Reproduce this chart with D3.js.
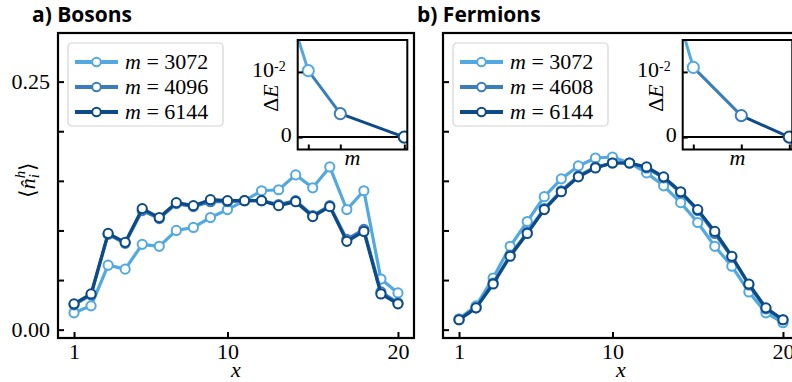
<!DOCTYPE html>
<html>
<head>
<meta charset="utf-8">
<script src="https://cdn.jsdelivr.net/npm/d3@7"></script>
<style>
	body { margin: 0; background: white; }
</style>
</head>
<body>
<div id="chart"></div>
<script>
// site index along the chain
const sites = [1, 2, 3, 4, 5, 6, 7, 8, 9, 10, 11, 12, 13, 14, 15, 16, 17, 18, 19, 20];

// bosons, hole density per bond dimension m
const bosonLabels = ["3072", "4096", "6144"];
const boson3072 = [0.017, 0.024, 0.065, 0.061, 0.086, 0.084, 0.100, 0.103, 0.113, 0.121, 0.130, 0.140, 0.141, 0.156, 0.143, 0.164, 0.121, 0.140, 0.051, 0.037];
const boson4096 = [0.025, 0.035, 0.096, 0.087, 0.120, 0.112, 0.127, 0.124, 0.129, 0.129, 0.130, 0.130, 0.126, 0.130, 0.115, 0.125, 0.091, 0.101, 0.038, 0.027];
const boson6144 = [0.026, 0.036, 0.097, 0.088, 0.122, 0.113, 0.128, 0.125, 0.131, 0.130, 0.130, 0.130, 0.125, 0.129, 0.114, 0.124, 0.089, 0.099, 0.036, 0.026];

// fermions
const fermionLabels = ["3072", "4608", "6144"];
const fermion3072 = [0.011, 0.024, 0.052, 0.084, 0.109, 0.134, 0.152, 0.165, 0.173, 0.174, 0.168, 0.158, 0.145, 0.128, 0.108, 0.084, 0.064, 0.038, 0.017, 0.007];
const fermion4608 = [0.010, 0.022, 0.047, 0.075, 0.098, 0.122, 0.140, 0.155, 0.164, 0.168, 0.168, 0.163, 0.153, 0.138, 0.120, 0.097, 0.073, 0.045, 0.021, 0.010];
const fermion6144 = [0.010, 0.022, 0.046, 0.074, 0.097, 0.121, 0.139, 0.154, 0.163, 0.168, 0.168, 0.164, 0.154, 0.139, 0.121, 0.099, 0.074, 0.046, 0.022, 0.010];

// inset: energy error vs m (first point lies above the visible range)
const bosonInsetM = [2048, 3072, 4096, 6144];
const bosonInsetDE = [0.0256, 0.0102, 0.0036, 0.0];
const fermionInsetM = [1536, 3072, 4608, 6144];
const fermionInsetDE = [0.0357, 0.0107, 0.0033, 0.0];

const yTicks = [0, 0.05, 0.10, 0.15, 0.20, 0.25];
const xTicks = [1, 10, 20];

const colors = ['#52a9e0', '#3a7dbd', '#0d4a88'],
	serif = "'Liberation Serif', 'Times New Roman', serif",
	W = 792,
	H = 382,
	plotTop = 33,
	plotBottom = 338;

let svg = d3.select("#chart").append("svg").attr("width", W).attr("height", H);

function styleAxis(a){
	a.select(".domain").remove();
	a.selectAll(".tick line").attr("stroke", "black").attr("stroke-width", 2);
	a.selectAll(".tick text").attr("fill", "black").style("font-size", "22px")
		.style("font-family", serif);
}

function drawPanel(cfg){
	let x = d3.scaleLinear().domain([0.06, 20.94]).range([cfg.left, cfg.left + 356]),
		y = d3.scaleLinear().domain([-0.0084, 0.299]).range([plotBottom, plotTop]),
		g = svg.append("g");

	g.append("clipPath").attr("id", "clip" + cfg.id)
		.append("rect")
		.attr("x", x.range()[0]).attr("y", plotTop)
		.attr("width", 356).attr("height", plotBottom - plotTop);

	// title
	svg.append("text")
		.attr("x", cfg.left - 26)
		.attr("y", 22)
		.style("font-family", "'Open Sans', Lato, sans-serif")
		.style("font-weight", "bold")
		.style("font-size", "21px")
		.text(cfg.title);

	// data lines
	let dataG = g.append("g").attr("clip-path", "url(#clip" + cfg.id + ")");
	let line = d3.line().x((d, i) => x(sites[i])).y(d => y(d));
	cfg.series.forEach(function(ser, si){
		dataG.append("path")
			.attr("d", line(ser))
			.attr("fill", "none")
			.attr("stroke", colors[si])
			.attr("stroke-width", 3.2)
			.attr("stroke-linejoin", "round");
		dataG.selectAll(null).data(ser).enter().append("circle")
			.attr("cx", (d, i) => x(sites[i]))
			.attr("cy", d => y(d))
			.attr("r", 4.6)
			.attr("fill", "white")
			.attr("stroke", colors[si])
			.attr("stroke-width", 2);
	});

	// axes with inward ticks
	let xAxis = g.append("g").attr("transform", "translate(0," + plotBottom + ")")
		.call(d3.axisBottom(x).tickValues(xTicks).tickSizeInner(-6).tickSizeOuter(0).tickPadding(5));
	let yAxis = g.append("g").attr("transform", "translate(" + cfg.left + ",0)")
		.call(d3.axisLeft(y).tickValues(yTicks).tickSizeInner(-6).tickSizeOuter(0).tickPadding(8)
			.tickFormat(d => (cfg.yLabels && (d === 0 || d === 0.25)) ? d3.format(".2f")(d) : ""));
	styleAxis(xAxis);
	styleAxis(yAxis);

	// frame
	g.append("rect")
		.attr("x", cfg.left).attr("y", plotTop)
		.attr("width", 356).attr("height", plotBottom - plotTop)
		.attr("fill", "none").attr("stroke", "black").attr("stroke-width", 2.2);

	// x label
	g.append("text")
		.attr("x", cfg.left + 178)
		.attr("y", 377)
		.attr("text-anchor", "middle")
		.style("font-family", serif)
		.style("font-size", "22px")
		.style("font-style", "italic")
		.text("x");

	// y label
	if(cfg.yLabels){
		let yl = g.append("text")
			.attr("transform", "translate(35,180) rotate(-90)")
			.attr("text-anchor", "middle")
			.style("font-family", serif)
			.style("font-size", "22px");
		yl.append("tspan").text("\u27E8");
		yl.append("tspan").style("font-style", "italic").text("n\u0302");
		yl.append("tspan").style("font-style", "italic").style("font-size", "15px").attr("dy", 4).text("i");
		yl.append("tspan").style("font-style", "italic").style("font-size", "15px").attr("dx", -4).attr("dy", -14).text("h");
		yl.append("tspan").attr("dy", 10).text("\u27E9");
	}

	// legend
	let lg = g.append("g").attr("transform", "translate(" + (cfg.left + 10) + ",43)");
	lg.append("rect")
		.attr("width", 155).attr("height", 83).attr("rx", 4)
		.attr("fill", "white").attr("fill-opacity", 0.8)
		.attr("stroke", "#d4d4d4").attr("stroke-width", 1.2);
	cfg.labels.forEach(function(lab, li){
		let row = lg.append("g").attr("transform", "translate(0," + (19 + li * 25) + ")");
		row.append("line").attr("x1", 7).attr("x2", 50)
			.attr("stroke", colors[li]).attr("stroke-width", 4);
		row.append("circle").attr("cx", 28.5).attr("r", 4.3)
			.attr("fill", "white").attr("stroke", colors[li]).attr("stroke-width", 2);
		let t = row.append("text").attr("x", 57).attr("y", 7.2)
			.style("font-family", serif).style("font-size", "22px");
		t.append("tspan").style("font-style", "italic").text("m");
		t.append("tspan").text(" = " + lab);
	});

	drawInset(cfg);
}

function drawInset(cfg){
	let x0 = cfg.left + 239.7,
		iw = 109.6,
		y0 = 40,
		y1 = 149.5,
		ix = d3.scaleLinear().domain([2733, 6240]).range([x0, x0 + iw]),
		iy = d3.scaleLinear().domain([-0.0019, 0.0149]).range([y1, y0]),
		g = svg.append("g");

	g.append("rect").attr("x", x0).attr("y", y0).attr("width", iw).attr("height", y1 - y0).attr("fill", "white");
	g.append("clipPath").attr("id", "iclip" + cfg.id)
		.append("rect").attr("x", x0).attr("y", y0).attr("width", iw).attr("height", y1 - y0);

	let dg = g.append("g").attr("clip-path", "url(#iclip" + cfg.id + ")");
	// zero line
	dg.append("line")
		.attr("x1", x0).attr("x2", x0 + iw)
		.attr("y1", iy(0)).attr("y2", iy(0))
		.attr("stroke", "black").attr("stroke-width", 2);
	let segColors = [colors[0], colors[0], colors[1], colors[2]];
	cfg.insetM.forEach(function(m, i){
		if(i === 0) return;
		dg.append("line")
			.attr("x1", ix(cfg.insetM[i - 1])).attr("y1", iy(cfg.insetDE[i - 1]))
			.attr("x2", ix(m)).attr("y2", iy(cfg.insetDE[i]))
			.attr("stroke", segColors[i]).attr("stroke-width", 3);
	});
	cfg.insetM.forEach(function(m, i){
		dg.append("circle")
			.attr("cx", ix(m)).attr("cy", iy(cfg.insetDE[i]))
			.attr("r", 5.6)
			.attr("fill", "white").attr("stroke", segColors[i]).attr("stroke-width", 2);
	});

	let xa = g.append("g").attr("transform", "translate(0," + y1 + ")")
		.call(d3.axisBottom(ix).tickValues(cfg.insetM.slice(1)).tickSizeInner(-5).tickSizeOuter(0).tickFormat(""));
	let ya = g.append("g").attr("transform", "translate(" + x0 + ",0)")
		.call(d3.axisLeft(iy).tickValues([0, 0.01]).tickSizeInner(-5).tickSizeOuter(0).tickPadding(6)
			.tickFormat(d => d === 0 ? "0" : "10"));
	styleAxis(xa);
	styleAxis(ya);
	ya.selectAll(".tick text").attr("dy", "0.2em");
	ya.selectAll(".tick text").filter(d => d === 0.01)
		.attr("x", -12)
		.append("tspan").attr("dy", "-0.45em").style("font-size", "14px").text("-2");

	g.append("rect").attr("x", x0).attr("y", y0).attr("width", iw).attr("height", y1 - y0)
		.attr("fill", "none").attr("stroke", "black").attr("stroke-width", 2);

	g.append("text")
		.attr("x", x0 + iw / 2).attr("y", 165)
		.attr("text-anchor", "middle")
		.style("font-family", serif)
		.style("font-size", "22px").style("font-style", "italic")
		.text("m");

	let dl = g.append("text")
		.attr("transform", "translate(" + (x0 - 20) + ",98) rotate(-90)")
		.attr("text-anchor", "middle")
		.style("font-family", serif)
		.style("font-size", "22px");
	dl.append("tspan").text("\u0394");
	dl.append("tspan").style("font-style", "italic").text("E");
}

drawPanel({id: "a", left: 58, title: "a) Bosons", yLabels: true,
	labels: bosonLabels, series: [boson3072, boson4096, boson6144],
	insetM: bosonInsetM, insetDE: bosonInsetDE});
drawPanel({id: "b", left: 443, title: "b) Fermions", yLabels: false,
	labels: fermionLabels, series: [fermion3072, fermion4608, fermion6144],
	insetM: fermionInsetM, insetDE: fermionInsetDE});
</script>
</body>
</html>
